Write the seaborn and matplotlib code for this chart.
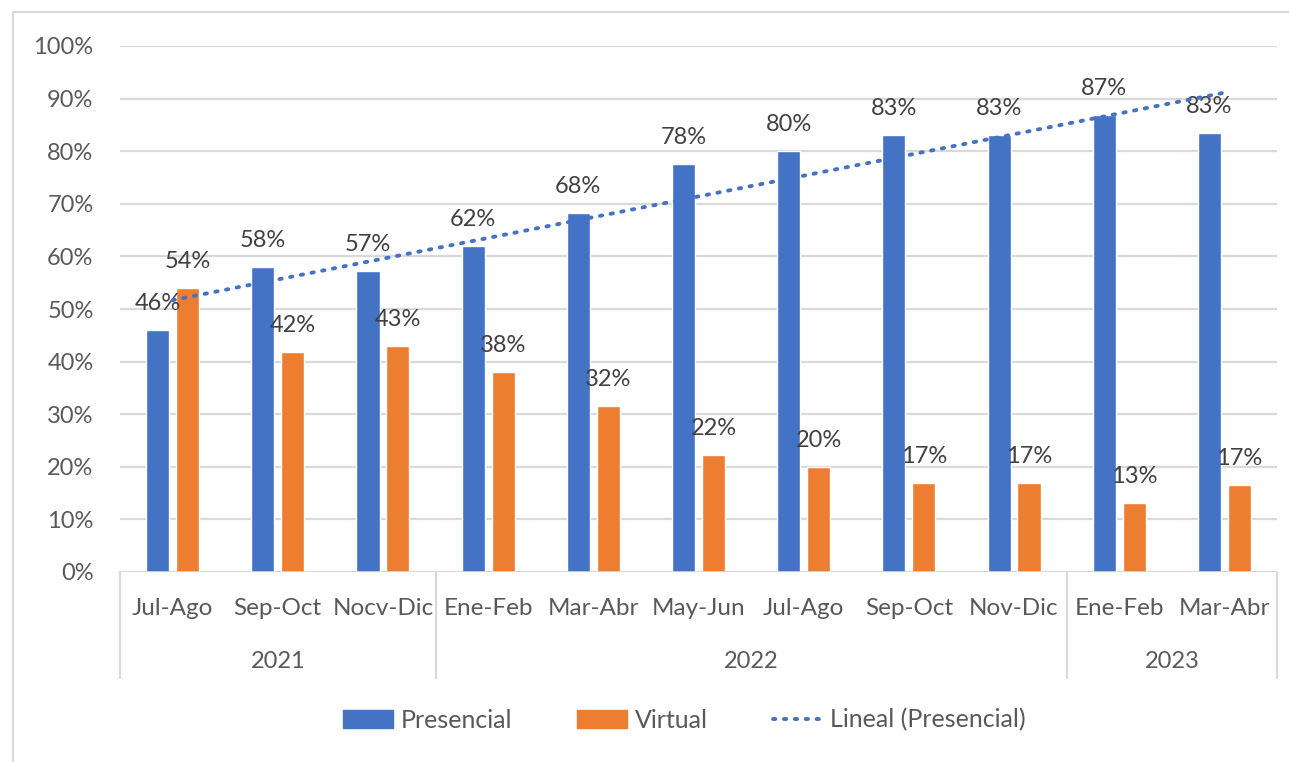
import numpy as np
import pandas as pd
import matplotlib
matplotlib.use("Agg")
import matplotlib.pyplot as plt
import seaborn as sns
from matplotlib.lines import Line2D
from matplotlib.patches import Patch

# data (percent)
periods = ["Jul-Ago", "Sep-Oct", "Nocv-Dic", "Ene-Feb", "Mar-Abr", "May-Jun",
           "Jul-Ago", "Sep-Oct", "Nov-Dic", "Ene-Feb", "Mar-Abr"]
years = ["2021", "2022", "2023"]
year_sizes = [3, 6, 2]
presencial = [46.0, 58.0, 57.2, 62.0, 68.2, 77.6, 80.1, 83.0, 83.0, 86.9, 83.4]
virtual = [54.0, 41.8, 43.0, 38.0, 31.6, 22.3, 20.0, 17.0, 17.0, 13.1, 16.6]

BLUE = "#4472C4"
ORANGE = "#ED7D31"
GRID = "#D9D9D9"
TXT = "#595959"
FS = 17

keys = [f"{i}" for i in range(len(periods))]
df = pd.DataFrame({
    "key": keys * 2,
    "valor": np.array(presencial + virtual) / 100,
    "serie": ["Presencial"] * len(keys) + ["Virtual"] * len(keys),
})

sns.set_theme(style="white")
plt.rcParams["font.family"] = ["Lato", "DejaVu Sans"]

fig = plt.figure(figsize=(12.89, 7.62), dpi=100)
ax = fig.add_axes([120 / 1289, 1 - 572 / 762, (1277 - 120) / 1289, (572 - 46) / 762])

sns.barplot(data=df, x="key", y="valor", hue="serie", order=keys,
            palette=[BLUE, ORANGE], width=0.57, gap=0.23, ax=ax,
            legend=False, saturation=1)

for cont in ax.containers:
    ax.bar_label(cont, labels=[f"{round(b.get_height() * 100)}%" for b in cont],
                 padding=11.5, fontsize=FS, color="#404040")

# linear trend of Presencial
xs = np.arange(len(presencial))
m, b = np.polyfit(xs, np.array(presencial) / 100, 1)
ax.plot(xs, m * xs + b, color=BLUE, lw=2.8, linestyle=(0, (0.6, 2.2)),
        dash_capstyle="round", zorder=5)

ax.set_ylim(0, 1)
ax.set_xlim(-0.5, len(periods) - 0.5)
ax.set_yticks(np.arange(0, 1.01, 0.1))
ax.set_yticklabels([f"{int(round(t * 100))}%" for t in np.arange(0, 1.01, 0.1)])
ax.yaxis.grid(True, color=GRID, lw=1.6)
ax.set_axisbelow(True)
for s in ax.spines.values():
    s.set_visible(False)
ax.axhline(0, color=GRID, lw=1.8, zorder=1)
ax.tick_params(axis="y", length=0, pad=19, labelsize=FS, labelcolor=TXT)
ax.set_xticks(xs)
ax.set_xticklabels(periods)
ax.tick_params(axis="x", length=0, pad=19, labelsize=FS + 0.5, labelcolor=TXT)
ax.set_xlabel("")
ax.set_ylabel("")

# year level of the category axis
trans = ax.get_xaxis_transform()
bottom = -(678 - 572) / 526
edges = np.concatenate([[0], np.cumsum(year_sizes)]) - 0.5
for e in edges:
    ax.plot([e, e], [0, bottom], color=GRID, lw=1.6, transform=trans, clip_on=False)
for y, lo, hi in zip(years, edges[:-1], edges[1:]):
    ax.text((lo + hi) / 2, -(661 - 572) / 526, y, transform=trans,
            ha="center", va="center", fontsize=FS, color=TXT)

# chart frame
fig.add_artist(Line2D([13 / 1289, 13 / 1289], [0, 1 - 12 / 762], color=GRID, lw=1.5))
fig.add_artist(Line2D([13 / 1289, 1], [1 - 12 / 762, 1 - 12 / 762], color=GRID, lw=1.5))

handles = [Patch(color=BLUE, label="Presencial"),
           Patch(color=ORANGE, label="Virtual"),
           Line2D([], [], color=BLUE, lw=2.8, linestyle=(0, (0.6, 2.2)),
                  dash_capstyle="round", label="Lineal (Presencial)")]
fig.legend(handles=handles, loc="center", bbox_to_anchor=(0.531, 1 - 720 / 762),
           ncol=3, frameon=False, fontsize=FS + 1, labelcolor=TXT,
           handlelength=2.0, handleheight=0.7, handletextpad=0.3,
           columnspacing=2.6)

fig.savefig("out.png", dpi=100)
